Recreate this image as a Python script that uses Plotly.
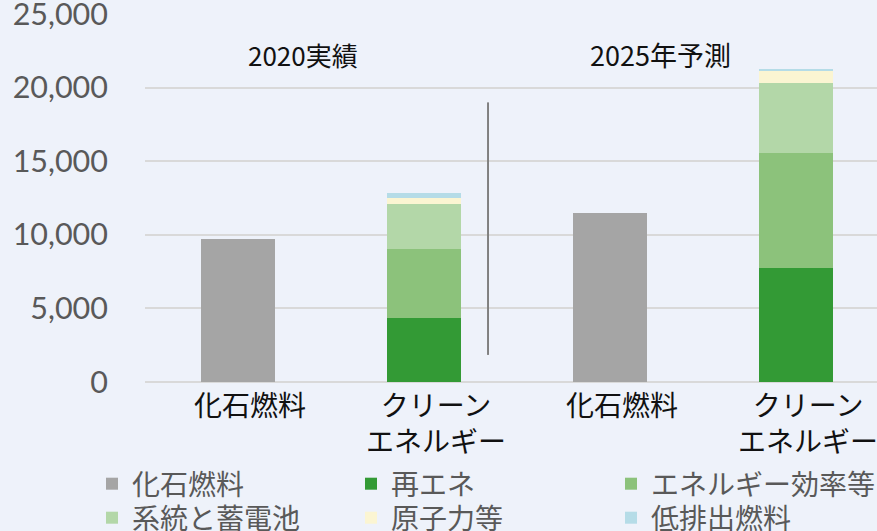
import plotly.graph_objects as go

# ---- data ----
categories = ["化石燃料", "クリーン<br>エネルギー", "化石燃料", "クリーン<br>エネルギー"]
x_pos = [0, 1, 2, 3]
fossil = [9730, None, 11500, None]
renewable = [None, 4355, None, 7770]
efficiency = [None, 4695, None, 7760]
grid_storage = [None, 3060, None, 4770]
nuclear = [None, 410, None, 820]
low_emission = [None, 340, None, 140]

series_names = ["化石燃料", "再エネ", "エネルギー効率等", "系統と蓄電池", "原子力等", "低排出燃料"]
series_values = [fossil, renewable, efficiency, grid_storage, nuclear, low_emission]
series_colors = ["#A5A5A5", "#339A35", "#8CC27B", "#B3D7A8", "#FBF5D2", "#B5DCE7"]

period_labels = ["2020実績", "2025年予測"]
y_ticks = [0, 5000, 10000, 15000, 20000, 25000]

CJK = "Noto Sans CJK JP"

legend_ids = ["legend", "legend2", "legend3", "legend4", "legend5", "legend6"]

fig = go.Figure()
for name, vals, col, lg in zip(series_names, series_values, series_colors, legend_ids):
    fig.add_trace(go.Bar(
        x=x_pos, y=vals, name=name, marker_color=col, width=0.4,
        marker_line_width=0, legend=lg,
    ))

# period annotations
fig.add_annotation(x=0.35, y=22250, text=period_labels[0], showarrow=False,
                   font=dict(family=CJK, size=26, color="#111111"))
fig.add_annotation(x=2.27, y=22250, text=period_labels[1], showarrow=False,
                   font=dict(family=CJK, size=27, color="#111111"))

# divider line
fig.add_shape(type="line", x0=1.344, x1=1.344, y0=1840, y1=18990,
              xref="x", yref="y", line=dict(color="#808080", width=2))

# legend layout: 3 columns x 2 rows (container pixel positions)
col_px = [92, 351, 611]
row_top_px = [459, 493]
legend_layouts = {}
for i, lg in enumerate(legend_ids):
    c = i % 3
    r = i // 3
    legend_layouts[lg] = dict(
        orientation="h", xref="container", yref="container",
        x=col_px[c] / 877, y=1 - row_top_px[r] / 531,
        xanchor="left", yanchor="top",
        font=dict(family=CJK, size=28, color="#595959"),
        itemwidth=30, bgcolor="rgba(0,0,0,0)",
    )

fig.update_layout(
    width=877, height=531,
    margin=dict(l=145, r=0, t=13, b=149),
    paper_bgcolor="#EEF2FA", plot_bgcolor="#EEF2FA",
    barmode="stack",
    showlegend=True,
    xaxis=dict(
        tickmode="array", tickvals=x_pos, ticktext=categories,
        range=[-0.5, 3.435], showgrid=False, zeroline=False, showline=False,
        tickfont=dict(family=CJK, size=28, color="#111111"),
        ticklabelshift=12, ticklabelstandoff=5, automargin=False, tickangle=0,
        ticklabeloverflow="allow",
    ),
    yaxis=dict(
        range=[0, 25060], tickvals=y_ticks, tickformat=",d",
        showgrid=True, gridcolor="#D9D9D9", gridwidth=1.5,
        zeroline=True, zerolinecolor="#D9D9D9", zerolinewidth=1.5,
        tickfont=dict(family="Lato", size=30.5, color="#595959"),
        ticklabelstandoff=36, automargin=False, ticklabeloverflow="allow",
    ),
    **legend_layouts,
)

fig.write_html("out.html", config={"displayModeBar": False},
               post_script="document.body.style.margin='0';")
